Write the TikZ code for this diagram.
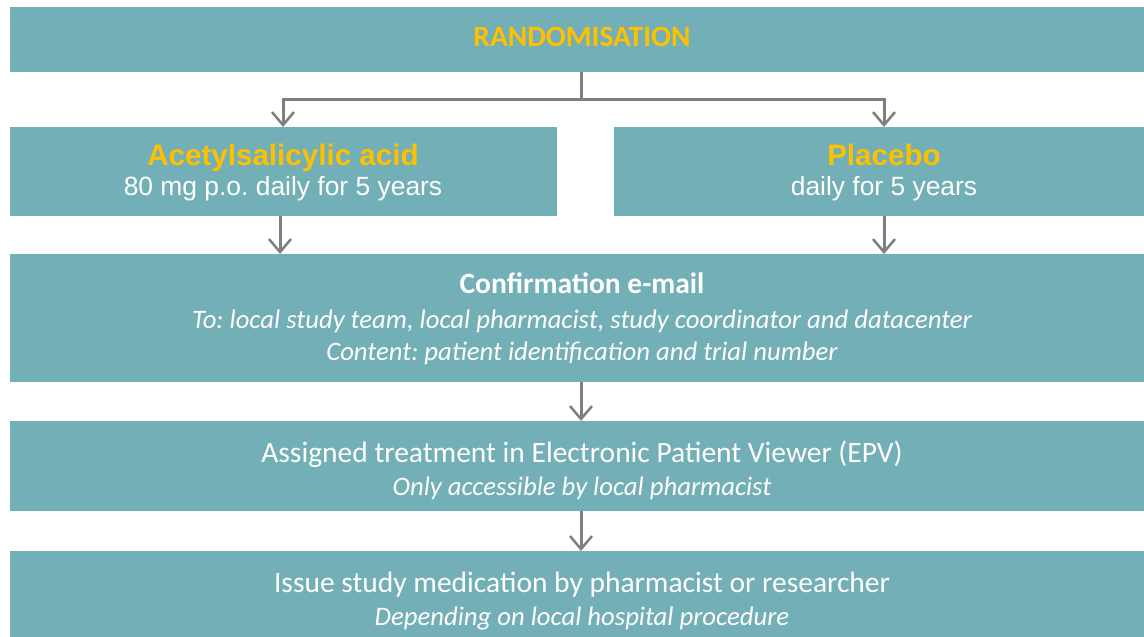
\documentclass[tikz,border=0pt]{standalone}
\usepackage{fontspec}
\setmainfont{Carlito}
\newfontfamily\ari{Liberation Sans}
\usetikzlibrary{arrows.meta,calc}
\frenchspacing
\definecolor{teal1}{HTML}{73AFB6}
\definecolor{gold1}{HTML}{FFC000}
\definecolor{arr}{HTML}{7F7F7F}
\tikzset{
  box/.style={fill=teal1, draw=none, anchor=north west, inner sep=0pt},
  txt/.style={anchor=base, inner sep=0pt, text=white},
  big/.style={font=\frenchspacing\fontsize{29.5}{34}\selectfont},
  bigb/.style={font=\frenchspacing\fontsize{29.5}{34}\selectfont\bfseries},
  ital/.style={font=\frenchspacing\fontsize{26.7}{32}\selectfont\itshape},
  arib/.style={font=\frenchspacing\ari\fontsize{29.6}{34}\selectfont\bfseries, text=gold1},
  arir/.style={font=\frenchspacing\ari\fontsize{26.4}{32}\selectfont},
  conn/.style={draw=arr, line width=3pt, -{Straight Barb[length=13pt,width=22pt,line width=2.5pt]}},
  plainline/.style={draw=arr, line width=3pt}
}
\begin{document}
\begin{tikzpicture}[x=1pt,y=-1pt]
\useasboundingbox (0,0) rectangle (1144,637);
% boxes
\node[box, minimum width=1144pt, minimum height=65pt] (rand) at (10,7) {};
\node[box, minimum width=547pt, minimum height=89pt] (asa) at (10,127) {};
\node[box, minimum width=540pt, minimum height=89pt] (plac) at (614,127) {};
\node[box, minimum width=1144pt, minimum height=128pt] (conf) at (10,254) {};
\node[box, minimum width=1144pt, minimum height=90pt] (epv) at (10,421) {};
\node[box, minimum width=1144pt, minimum height=90pt] (issue) at (10,551) {};
% texts
\node[txt, bigb, text=gold1] (randT) at (582,46) {RANDOMISATION};
\node[txt, arib] (asaT1) at (283,165) {Acetylsalicylic acid};
\node[txt, arir] (asaT2) at (283,195) {80 mg p.o. daily for 5 years};
\node[txt, arib] (placT1) at (884,165) {Placebo};
\node[txt, arir] (placT2) at (884,195) {daily for 5 years};
\node[txt, bigb] (confT1) at (582,293) {Confirmation e-mail};
\node[txt, ital] (confT2) at (582,328) {To: local study team, local pharmacist, study coordinator and datacenter};
\node[txt, ital] (confT3) at (582,360) {Content: patient identification and trial number};
\node[txt, big] (epvT1) at (582,462) {Assigned treatment in Electronic Patient Viewer (EPV)};
\node[txt, ital] (epvT2) at (582,495) {Only accessible by local pharmacist};
\node[txt, big] (issueT1) at (582,592) {Issue study medication by pharmacist or researcher};
\node[txt, ital] (issueT2) at (582,625) {Depending on local hospital procedure};
% connectors
\coordinate (split) at (581,99);
\coordinate (lft) at (283,99);
\coordinate (rgt) at (884,99);
\coordinate (asaX) at (280,99);
\draw[plainline] (rand.south -| split) -- (split);
\draw[conn] (split) -- (lft) -- (lft |- asa.north);
\draw[conn] (split) -- (rgt) -- (rgt |- plac.north);
\draw[conn] (asaX |- asa.south) -- (asaX |- conf.north);
\draw[conn] (rgt |- plac.south) -- (rgt |- conf.north);
\draw[conn] (split |- conf.south) -- (split |- epv.north);
\draw[conn] (split |- epv.south) -- (split |- issue.north);
\end{tikzpicture}
\end{document}
